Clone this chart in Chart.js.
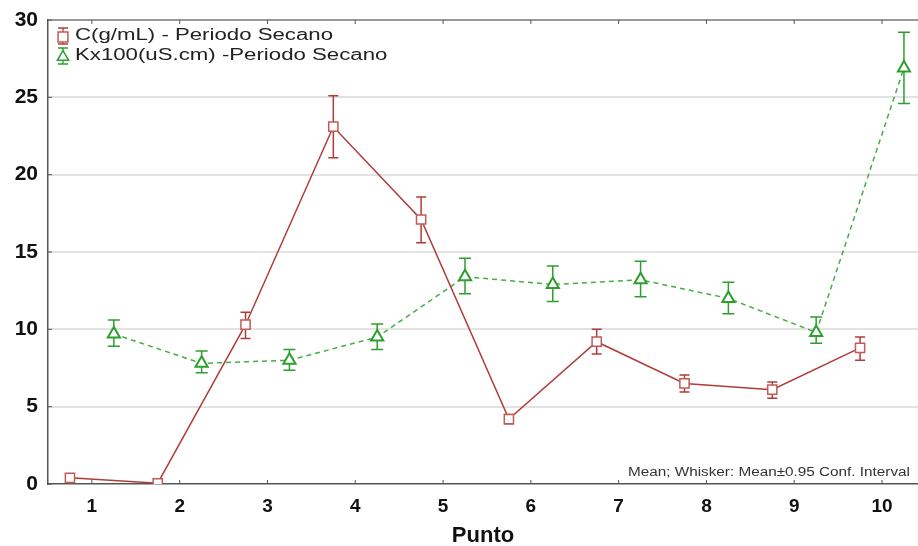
<!DOCTYPE html>
<html>
<head>
<meta charset="utf-8">
<script src="https://cdn.jsdelivr.net/npm/chart.js@4.4.0/dist/chart.umd.min.js"></script>
<style>
  html, body { margin: 0; padding: 0; background: #fff; }
  #wrap { width: 918px; height: 546px; position: relative; }
</style>
</head>
<body>
<div id="wrap"><canvas id="chart"></canvas></div>
<script>
// values
const puntos = [1, 2, 3, 4, 5, 6, 7, 8, 9, 10];
const yTicks = [0, 5, 10, 15, 20, 25, 30];

const concMean = [0.4, 0.05, 10.3, 23.1, 17.1, 4.2, 9.2, 6.5, 6.1, 8.8];
const concLow  = [0.4, 0.05, 9.4, 21.1, 15.6, 3.9, 8.4, 5.95, 5.55, 8.0];
const concHigh = [0.4, 0.05, 11.1, 25.1, 18.55, 4.5, 10.0, 7.05, 6.6, 9.5];

const condMean = [9.7, 7.8, 8.0, 9.5, 13.4, 12.9, 13.2, 12.0, 9.8, 26.9];
const condLow  = [8.9, 7.2, 7.35, 8.7, 12.3, 11.8, 12.1, 11.0, 9.1, 24.6];
const condHigh = [10.6, 8.6, 8.7, 10.35, 14.6, 14.1, 14.4, 13.05, 10.8, 29.2];

const labelConc = 'C(g/mL) - Periodo Secano';
const labelCond = 'Kx100(uS.cm) -Periodo Secano';
const noteText = 'Mean; Whisker: Mean\u00b10.95 Conf. Interval';

const OFFSET = 0.25;
const RED = '#b03c3a';
const RED_MARK = '#c25a58';
const GREEN = '#2e9e2e';
const GREEN_LINE = '#46ad46';
const AXIS = '#555';
const FONT = "'Liberation Sans', Arial, sans-serif";

function points(means, shift) {
  return puntos.map((p, i) => ({ x: p + shift, y: means[i] }));
}

// whiskers, drawn under the markers
const errorBars = {
  id: 'errorBars',
  beforeDatasetsDraw(chart) {
    const { ctx, scales: { x, y } } = chart;
    const sets = [
      { lo: concLow, hi: concHigh, shift: -OFFSET, color: RED, cap: 5 },
      { lo: condLow, hi: condHigh, shift: OFFSET, color: GREEN, cap: 6 }
    ];
    ctx.save();
    ctx.lineWidth = 1.5;
    sets.forEach(s => {
      ctx.strokeStyle = s.color;
      puntos.forEach((p, i) => {
        if (s.lo[i] === s.hi[i]) return;
        const px = x.getPixelForValue(p + s.shift);
        const top = y.getPixelForValue(s.hi[i]);
        const bot = y.getPixelForValue(s.lo[i]);
        ctx.beginPath();
        ctx.moveTo(px, top); ctx.lineTo(px, bot);
        ctx.moveTo(px - s.cap, top); ctx.lineTo(px + s.cap, top);
        ctx.moveTo(px - s.cap, bot); ctx.lineTo(px + s.cap, bot);
        ctx.stroke();
      });
    });
    ctx.restore();
  }
};

// frame ticks, legend box and the note
const decorations = {
  id: 'decorations',
  afterDraw(chart) {
    const { ctx, chartArea: a, scales: { x, y } } = chart;
    ctx.save();
    // top frame line
    ctx.strokeStyle = '#777';
    ctx.lineWidth = 1.5;
    ctx.beginPath();
    ctx.moveTo(a.left, a.top); ctx.lineTo(a.right, a.top);
    ctx.stroke();
    // inward ticks
    ctx.strokeStyle = AXIS;
    ctx.lineWidth = 1;
    ctx.beginPath();
    puntos.forEach(p => {
      const px = x.getPixelForValue(p);
      ctx.moveTo(px, a.bottom); ctx.lineTo(px, a.bottom - 4);
      ctx.moveTo(px, a.top); ctx.lineTo(px, a.top + 4);
    });
    yTicks.forEach(v => {
      const py = y.getPixelForValue(v);
      ctx.moveTo(a.left, py); ctx.lineTo(a.left + 4, py);
    });
    ctx.stroke();

    // legend
    const rows = [
      { label: labelConc, color: RED, mark: RED_MARK, style: 'rect', r: 7 },
      { label: labelCond, color: GREEN, mark: GREEN, style: 'triangle', r: 6.5 }
    ];
    ctx.font = '16px ' + FONT;
    ctx.textBaseline = 'middle';
    const stretch = 258 / ctx.measureText(labelConc).width;
    rows.forEach((r, i) => {
      const cx = a.left + 15;
      const cy = a.top + 16 + i * 20;
      ctx.strokeStyle = r.color;
      ctx.lineWidth = 1.3;
      ctx.beginPath();
      ctx.moveTo(cx, cy - 8); ctx.lineTo(cx, cy + 8);
      ctx.moveTo(cx - 5, cy - 8); ctx.lineTo(cx + 5, cy - 8);
      ctx.moveTo(cx - 5, cy + 8); ctx.lineTo(cx + 5, cy + 8);
      ctx.stroke();
      ctx.fillStyle = '#fff';
      ctx.strokeStyle = r.mark;
      ctx.lineWidth = 1.5;
      Chart.helpers.drawPoint(ctx, { pointStyle: r.style, radius: r.r, rotation: 0, borderWidth: 1.5 }, cx, cy + 1);
      ctx.fillStyle = '#222';
      ctx.save();
      ctx.translate(a.left + 27, cy);
      ctx.scale(stretch, 1);
      ctx.fillText(r.label, 0, 0);
      ctx.restore();
    });

    // note at bottom right
    ctx.font = '12px ' + FONT;
    ctx.fillStyle = '#333';
    ctx.textBaseline = 'alphabetic';
    const nw = ctx.measureText(noteText).width;
    ctx.save();
    ctx.translate(910, a.bottom - 8);
    ctx.scale(282 / nw, 1);
    ctx.textAlign = 'right';
    ctx.fillText(noteText, 0, 0);
    ctx.restore();
    ctx.restore();
  }
};

new Chart(document.getElementById('chart'), {
  type: 'line',
  data: {
    datasets: [
      {
        label: labelConc,
        data: points(concMean, -OFFSET),
        borderColor: RED,
        borderWidth: 1.5,
        pointStyle: 'rect',
        pointRadius: 6.5,
        pointBorderColor: RED_MARK,
        pointBackgroundColor: '#fff',
        pointBorderWidth: 1.5,
        tension: 0
      },
      {
        label: labelCond,
        data: points(condMean, OFFSET),
        borderColor: GREEN_LINE,
        borderWidth: 1.5,
        borderDash: [5, 4],
        pointStyle: 'triangle',
        pointRadius: 7,
        pointBorderColor: GREEN,
        pointBackgroundColor: '#fff',
        pointBorderWidth: 2,
        tension: 0
      }
    ]
  },
  options: {
    responsive: true,
    maintainAspectRatio: false,
    animation: false,
    layout: { autoPadding: false, padding: { top: 20, right: 0, left: 0, bottom: 0 } },
    plugins: {
      legend: { display: false },
      tooltip: { enabled: false }
    },
    scales: {
      x: {
        type: 'linear',
        min: 0.5,
        max: 10.41,
        afterBuildTicks: s => { s.ticks = puntos.map(v => ({ value: v })); },
        afterFit: s => { s.height = 62; s.paddingLeft = 0; s.paddingRight = 0; },
        grid: { display: false },
        border: { display: true, color: AXIS, width: 1.5 },
        ticks: {
          color: '#111',
          padding: 3,
          font: { family: FONT, size: 19, weight: 'bold' },
          callback: v => String(v)
        },
        title: {
          display: true,
          text: 'Punto',
          color: '#111',
          padding: { top: 0, bottom: 0 },
          font: { family: FONT, size: 22, weight: 'bold', lineHeight: 0.9 }
        }
      },
      y: {
        min: 0,
        max: 30,
        afterBuildTicks: s => { s.ticks = yTicks.map(v => ({ value: v })); },
        afterFit: s => { s.width = 48; s.paddingTop = 0; s.paddingBottom = 0; },
        grid: {
          drawTicks: false,
          lineWidth: 2,
          color: c => (c.tick && (c.tick.value === 0 || c.tick.value === 30)) ? 'rgba(0,0,0,0)' : '#e2e2e2'
        },
        border: { display: true, color: AXIS, width: 1.5 },
        ticks: {
          color: '#111',
          padding: 10,
          font: { family: FONT, size: 21, weight: 'bold' }
        }
      }
    }
  },
  plugins: [errorBars, decorations]
});
</script>
</body>
</html>
